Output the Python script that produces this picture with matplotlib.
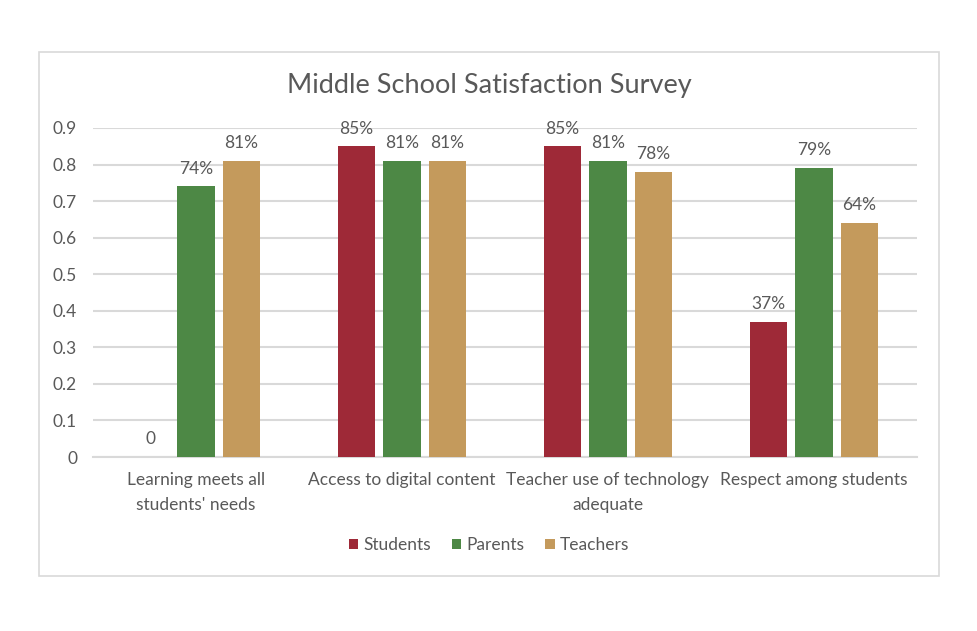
import numpy as np
import matplotlib
matplotlib.use("Agg")
import matplotlib.pyplot as plt
from matplotlib.patches import Rectangle

plt.rcParams["font.family"] = ["Lato", "DejaVu Sans"]

categories = ["Learning meets all\nstudents' needs", "Access to digital content",
              "Teacher use of technology\nadequate", "Respect among students"]
series = ["Students", "Parents", "Teachers"]
students = [0, 0.85, 0.85, 0.37]
parents = [0.74, 0.81, 0.81, 0.79]
teachers = [0.81, 0.81, 0.78, 0.64]
colors = ["#9E2937", "#4D8845", "#C49A5C"]
yticks = [0, 0.1, 0.2, 0.3, 0.4, 0.5, 0.6, 0.7, 0.8, 0.9]

txt = "#595959"
grid = "#D9D9D9"
fs = 12.5

fig = plt.figure(figsize=(9.78, 6.31), dpi=100)
fig.patches.append(Rectangle((39/978, 1-576/631), 900/978, 524/631, transform=fig.transFigure,
                             fill=False, edgecolor=grid, linewidth=1.2))
ax = fig.add_axes([93/978, 1-457/631, 824/978, (457-128)/631])

x = np.arange(len(categories))
w = 0.18
step = 0.22
for i, (name, vals) in enumerate(zip(series, [students, parents, teachers])):
    bars = ax.bar(x + (i-1)*step, vals, w, color=colors[i], label=name, zorder=3)
    labels = [f"{v:.0%}" if v else "0" for v in vals]
    ax.bar_label(bars, labels=labels, padding=7, fontsize=fs, color=txt)

ax.set_xlim(-0.5, 3.5)
ax.set_ylim(0, 0.9)
ax.set_yticks(yticks)
ax.set_yticklabels([f"{t:g}" for t in yticks], fontsize=fs, color=txt)
ax.set_xticks(x)
ax.set_xticklabels(categories, fontsize=fs, color=txt, linespacing=1.65)
ax.tick_params(axis="y", length=0, pad=11.5)
ax.tick_params(axis="x", length=0, pad=11)
ax.yaxis.grid(True, color=grid, linewidth=1.5, zorder=0)
for s in ["top", "right", "left"]:
    ax.spines[s].set_visible(False)
ax.spines["bottom"].set_color(grid)
ax.spines["bottom"].set_linewidth(1.5)
ax.spines["bottom"].set_zorder(0)

fig.text(0.5, 1-85/631, "Middle School Satisfaction Survey", ha="center", va="center",
         fontsize=19.5, color=txt)
fig.legend(loc="center", bbox_to_anchor=(0.5, 1-545/631), ncol=3, frameon=False,
           fontsize=fs, labelcolor=txt, handlelength=0.55, handleheight=0.55,
           handletextpad=0.3, columnspacing=1.2)

fig.savefig("out.png", dpi=100)
